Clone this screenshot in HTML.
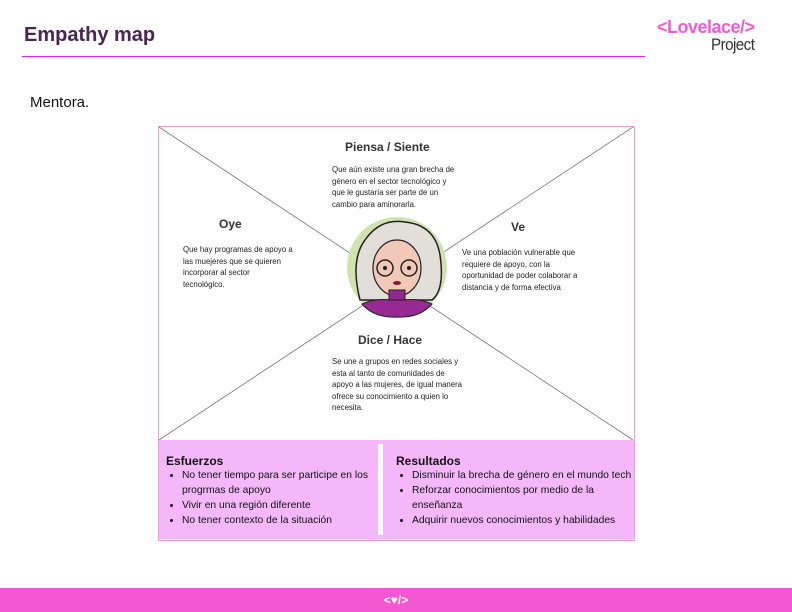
<!DOCTYPE html>
<html><head><meta charset="utf-8"><style>
body{margin:0;width:792px;height:612px;position:relative;background:#fff;font-family:"Liberation Sans",sans-serif;overflow:hidden}
.a{position:absolute;white-space:nowrap}
.t{font-size:7.8px;line-height:11.5px;color:#222}
h3{margin:0;font-size:12px;font-weight:bold;color:#333}
ul{margin:0;padding-left:16px;font-size:10.3px;line-height:15px;color:#111}
</style></head><body>
<div class="a" style="left:24px;top:24px;font-size:20px;font-weight:bold;color:#4a2552">Empathy map</div>
<div class="a" style="left:22px;top:56px;width:623px;height:1px;background:#e81fe8"></div>
<div class="a" style="left:657px;top:17px;font-size:18px;font-weight:bold;color:#f35bd4;letter-spacing:-0.5px">&lt;Lovelace/&gt;</div>
<div class="a" style="left:711px;top:36px;font-size:16.5px;color:#333;letter-spacing:-0.6px;transform:scaleX(0.92);transform-origin:left">Project</div>
<div class="a" style="left:30px;top:94px;font-size:15px;color:#111">Mentora.</div>
<div class="a" style="left:158px;top:126px;width:475px;height:413px;border:1px solid #f0a0c8"></div>
<svg class="a" style="left:0;top:0" width="792" height="612">
<line x1="159" y1="127" x2="633" y2="440" stroke="#777" stroke-width="0.8"/>
<line x1="633" y1="127" x2="159" y2="440" stroke="#777" stroke-width="0.8"/>
<circle cx="397" cy="267" r="50" fill="#cfe3b0"/>
<path d="M360 300 Q350 260 365 240 Q380 218 405 222 Q435 225 440 255 Q445 290 432 300 Z" fill="#e2ded8" stroke="#222" stroke-width="1.5"/>
<ellipse cx="397" cy="268" rx="24" ry="28" fill="#f2c9b8" stroke="#222" stroke-width="1.2"/>
<circle cx="385" cy="268" r="8" fill="none" stroke="#222" stroke-width="1.5"/>
<circle cx="409" cy="268" r="8" fill="none" stroke="#222" stroke-width="1.5"/>
<circle cx="385" cy="268" r="2" fill="#222"/><circle cx="409" cy="268" r="2" fill="#222"/>
<ellipse cx="397" cy="283" rx="4" ry="2" fill="#8a1638"/>
<rect x="389" y="290" width="16" height="12" fill="#8e2a8e" stroke="#222"/>
<path d="M362 304 Q375 298 390 300 L404 300 Q420 298 432 304 Q420 318 397 317 Q374 318 362 304Z" fill="#962a92" stroke="#222"/>
</svg>
<div class="a" style="left:345px;top:140px;font-size:12px;font-weight:bold;color:#333">Piensa / Siente</div>
<div class="a t" style="left:332px;top:164px">Que aún existe una gran brecha de<br>género en el sector tecnológico y<br>que le gustaría ser parte de un<br>cambio para aminorarla.</div>
<div class="a" style="left:219px;top:217px;font-size:12px;font-weight:bold;color:#333">Oye</div>
<div class="a t" style="left:183px;top:244px">Que hay programas de apoyo a<br>las muejeres que se quieren<br>incorporar al sector<br>tecnológico.</div>
<div class="a" style="left:511px;top:220px;font-size:12px;font-weight:bold;color:#333">Ve</div>
<div class="a t" style="left:462px;top:247px">Ve una población vulnerable que<br>requiere de apoyo, con la<br>oportunidad de poder colaborar a<br>distancia y de forma efectiva</div>
<div class="a" style="left:358px;top:333px;font-size:12px;font-weight:bold;color:#333">Dice / Hace</div>
<div class="a t" style="left:332px;top:356px">Se une a grupos en redes sociales y<br>esta al tanto de comunidades de<br>apoyo a las mujeres, de igual manera<br>ofrece su conocimiento a quien lo<br>necesita.</div>
<div class="a" style="left:159px;top:440px;width:475px;height:99px;background:#f4b8fa"></div>
<div class="a" style="left:378px;top:444px;width:5px;height:91px;background:#fff"></div>
<div class="a" style="left:166px;top:454px"><h3 style="color:#111">Esfuerzos</h3><ul><li>No tener tiempo para ser participe en los<br>progrmas de apoyo</li><li>Vivir en una región diferente</li><li>No tener contexto de la situación</li></ul></div>
<div class="a" style="left:396px;top:454px"><h3 style="color:#111">Resultados</h3><ul><li>Disminuir la brecha de género en el mundo tech</li><li>Reforzar conocimientos por medio de la<br>enseñanza</li><li>Adquirir nuevos conocimientos y habilidades</li></ul></div>
<div class="a" style="left:0;top:588px;width:792px;height:24px;background:#f557d3;color:#fff;font-size:12px;font-weight:bold;text-align:center;line-height:24px">&lt;♥/&gt;</div>
</body></html>
